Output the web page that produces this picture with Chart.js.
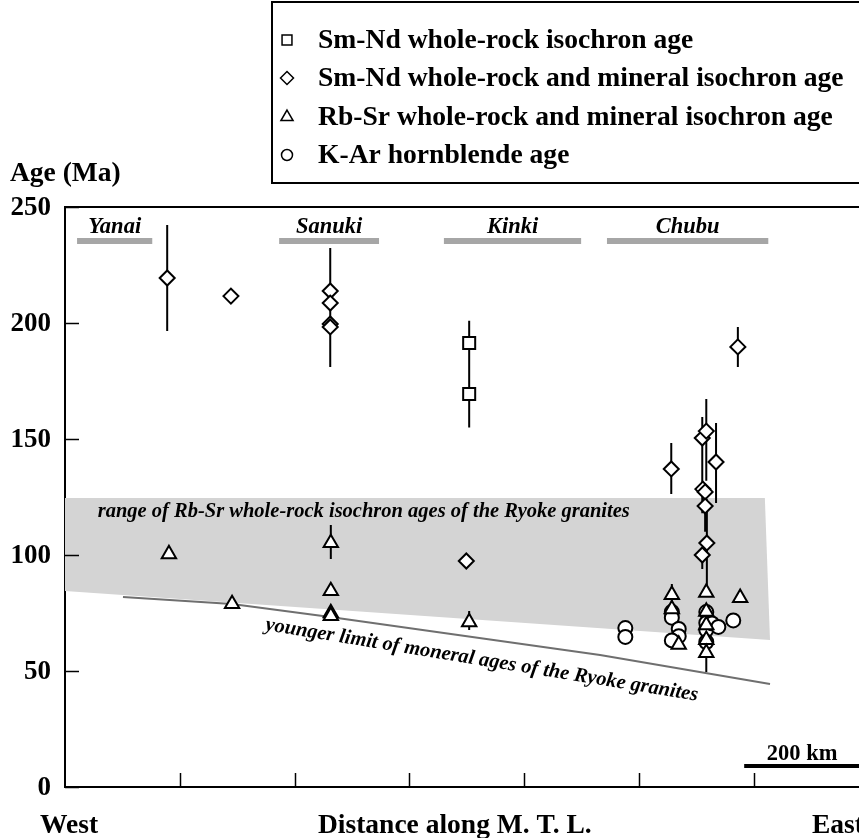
<!DOCTYPE html>
<html>
<head>
<meta charset="utf-8">
<script src="https://cdn.jsdelivr.net/npm/chart.js@4.4.1/dist/chart.umd.min.js"></script>
<style>
html, body { margin: 0; padding: 0; background: #fff; }
#grafico { display: block; }
</style>
</head>
<body>
<canvas id="grafico" width="859" height="838"></canvas>
<script>
const FONTE = '"Liberation Serif", "Times New Roman", serif';

// Eixos (x em km ao longo da M.T.L., y em Ma)
const eixoXMax = 1383;
const eixoYMax = 250;
const ticksY = [0, 50, 100, 150, 200, 250];
const ticksX = [200, 400, 600, 800, 1000, 1200];

// Nomes das series (legenda)
const nomesSeries = [
    "Sm-Nd whole-rock isochron age",
    "Sm-Nd whole-rock and mineral isochron age",
    "Rb-Sr whole-rock and mineral isochron age",
    "K-Ar hornblende age"
];

// Sm-Nd rocha total (quadrados)
const smNdX = [704, 704];
const smNdY = [191.4, 169.4];
const smNdErrMin = [169, 155];
const smNdErrMax = [201, 169];

// Sm-Nd rocha total e mineral (losangos)
const smNdMinX = [178, 289, 462, 462, 462, 462, 699, 1056, 1110, 1117, 1134, 1111, 1115, 1115, 1118, 1110, 1172];
const smNdMinY = [219.4, 211.6, 213.8, 208.6, 199.6, 198.3, 97.4, 137.1, 150.4, 153.4, 140.1, 128.4, 127.2, 121.1, 105.2, 100.0, 189.7];
const smNdMinErrMin = [196.6, null, null, 181, null, null, null, 126.3, 118, 132, 122.4, null, null, 110, 86, 94, 181];
const smNdMinErrMax = [242.2, null, null, 232.3, null, null, null, 148.3, 159.5, 167.2, 156.9, null, null, 128, 124, 100, 198.3];

// Rb-Sr rocha total e mineral (triangulos)
const rbSrX = [181, 291, 463, 463, 463, 463, 704, 1057, 1057, 1069, 1117, 1117, 1117, 1117, 1117, 1176];
const rbSrY = [100.4, 78.9, 105.2, 84.5, 75.0, 73.8, 71.1, 82.8, 76.7, 61.4, 83.8, 75.6, 69.8, 63.4, 57.8, 81.5];
const rbSrErrMin = [null, null, 98.3, null, null, null, 67.7, 78, null, null, null, null, null, null, 49.6, null];
const rbSrErrMax = [null, null, 112.9, null, null, null, 75.9, 87.5, null, null, null, null, null, null, 60, null];

// K-Ar hornblenda (circulos)
const kArX = [976, 976, 1057, 1057, 1069, 1069, 1057, 1117, 1117, 1117, 1117, 1127, 1138, 1164];
const kArY = [68.5, 64.7, 75.5, 73.0, 68.1, 65.0, 63.2, 75.4, 70.7, 67.7, 62.5, 70.5, 69.0, 71.8];

// Faixa das idades Rb-Sr (poligono cinza)
const faixaX = [0, 1219, 1228, 0, 0];
const faixaY = [124.6, 124.6, 63.4, 84.5, 124.6];

// Limite jovem das idades minerais
const limiteX = [101, 291, 462, 932, 1228];
const limiteY = [81.9, 78.9, 73.3, 56.9, 44.4];

// Regioes
const regioes = ["Yanai", "Sanuki", "Kinki", "Chubu"];
const regiaoIni = [21, 373, 660, 944];
const regiaoFim = [152, 547, 899, 1225];
const regiaoY = 235.3;
const regiaoTextoY = 238.8;

// Barra de escala
const escalaX = [1183, 1383];
const escalaY = 9;
const escalaTexto = "200 km";
const escalaTextoPos = [1284, 11.6];

// Anotacoes
const textoFaixa = "range of Rb-Sr whole-rock isochron ages of the Ryoke granites";
const textoFaixaPos = [57, 118.5];
const textoLimite = "younger limit of moneral ages of the Ryoke granites";
const textoLimitePos = [348, 67.7];

const pontos = (xs, ys) => xs.map((x, i) => ({ x: x, y: ys[i] }));

function montarBarras(xs, mins, maxs) {
    const pts = [];
    xs.forEach((x, i) => {
        if (mins[i] == null) return;
        pts.push({ x: x, y: mins[i] }, { x: x, y: maxs[i] }, { x: null, y: null });
    });
    return pts;
}

const barrasErro = [].concat(
    montarBarras(smNdX, smNdErrMin, smNdErrMax),
    montarBarras(smNdMinX, smNdMinErrMin, smNdMinErrMax),
    montarBarras(rbSrX, rbSrErrMin, rbSrErrMax)
);

const estiloMarcador = { borderColor: '#000', backgroundColor: '#fff', borderWidth: 2, showLine: false };

const conjuntos = [
    Object.assign({ label: nomesSeries[0], data: pontos(smNdX, smNdY), pointStyle: 'rect', pointRadius: 8.5, order: 1 }, estiloMarcador),
    Object.assign({ label: nomesSeries[1], data: pontos(smNdMinX, smNdMinY), pointStyle: 'rectRot', pointRadius: 7.5, order: 2 }, estiloMarcador),
    Object.assign({ label: nomesSeries[2], data: pontos(rbSrX, rbSrY), pointStyle: 'triangle', pointRadius: 8.3, order: 3 }, estiloMarcador),
    Object.assign({ label: nomesSeries[3], data: pontos(kArX, kArY), pointStyle: 'circle', pointRadius: 7, order: 4 }, estiloMarcador),
    { label: 'erro', data: barrasErro, showLine: true, borderColor: '#000', borderWidth: 2, pointRadius: 0, spanGaps: false, order: 5 },
    { label: 'escala', data: pontos(escalaX, [escalaY, escalaY]), showLine: true, borderColor: '#000', borderWidth: 4, pointRadius: 0, order: 6 },
    { label: 'limite', data: pontos(limiteX, limiteY), showLine: true, borderColor: '#6f6f6f', borderWidth: 2, pointRadius: 0, order: 7 },
    { label: 'faixa', data: pontos(faixaX, faixaY), showLine: true, borderWidth: 0, borderColor: 'rgba(0,0,0,0)', backgroundColor: '#d4d4d4', fill: 'shape', pointRadius: 0, order: 9 }
];

regioes.forEach((r, i) => {
    conjuntos.push({ label: r, data: pontos([regiaoIni[i], regiaoFim[i]], [regiaoY, regiaoY]), showLine: true, borderColor: '#a6a6a6', borderWidth: 6, pointRadius: 0, order: 8 });
});

function desenharMarcador(ctx, estilo, raio, x, y) {
    ctx.save();
    ctx.fillStyle = '#fff';
    ctx.strokeStyle = '#000';
    ctx.lineWidth = 1.5;
    Chart.helpers.drawPoint(ctx, { pointStyle: estilo, radius: raio, borderWidth: 1.5, rotation: 0 }, x, y);
    ctx.restore();
}

function texto(ctx, s, x, y, align, angulo) {
    ctx.save();
    ctx.translate(x, y);
    if (angulo) ctx.rotate(angulo * Math.PI / 180);
    ctx.textAlign = align || 'left';
    ctx.fillText(s, 0, 0);
    ctx.restore();
}

// Textos, ticks internos, moldura e legenda
const pluginTextos = {
    id: 'textos',
    afterDraw(chart) {
        const ctx = chart.ctx;
        const sx = chart.scales.x, sy = chart.scales.y;
        const area = chart.chartArea;
        ctx.save();
        ctx.strokeStyle = '#000';
        ctx.fillStyle = '#000';

        // moldura superior
        ctx.lineWidth = 2;
        ctx.beginPath();
        ctx.moveTo(area.left, area.top);
        ctx.lineTo(area.right, area.top);
        ctx.stroke();

        // ticks internos
        ctx.lineWidth = 1.5;
        ticksY.forEach(v => {
            const py = Math.round(sy.getPixelForValue(v)) + 0.5;
            ctx.beginPath(); ctx.moveTo(area.left, py); ctx.lineTo(area.left + 14, py); ctx.stroke();
        });
        ticksX.forEach(v => {
            const px = Math.round(sx.getPixelForValue(v)) + 0.5;
            ctx.beginPath(); ctx.moveTo(px, area.bottom); ctx.lineTo(px, area.bottom - 14); ctx.stroke();
        });

        // rotulos do eixo y
        ctx.font = 'bold 27px ' + FONTE;
        ctx.textBaseline = 'middle';
        ticksY.forEach(v => texto(ctx, String(v), area.left - 14, sy.getPixelForValue(v) + 1, 'right'));

        // rotulos das regioes
        ctx.font = 'italic bold 22.5px ' + FONTE;
        ctx.textBaseline = 'alphabetic';
        regioes.forEach((r, i) => {
            const cx = sx.getPixelForValue((regiaoIni[i] + regiaoFim[i]) / 2);
            texto(ctx, r, cx, sy.getPixelForValue(regiaoTextoY), 'center');
        });

        // anotacoes
        ctx.font = 'italic bold 20.5px ' + FONTE;
        ctx.textBaseline = 'middle';
        texto(ctx, textoFaixa, sx.getPixelForValue(textoFaixaPos[0]), sy.getPixelForValue(textoFaixaPos[1]), 'left');
        ctx.textBaseline = 'alphabetic';
        texto(ctx, textoLimite, sx.getPixelForValue(textoLimitePos[0]), sy.getPixelForValue(textoLimitePos[1]), 'left', 9.3);

        // escala
        ctx.font = 'bold 22.5px ' + FONTE;
        texto(ctx, escalaTexto, sx.getPixelForValue(escalaTextoPos[0]), sy.getPixelForValue(escalaTextoPos[1]), 'center');

        // titulos dos eixos
        ctx.font = 'bold 27.5px ' + FONTE;
        ctx.textBaseline = 'middle';
        texto(ctx, 'Age (Ma)', 10, 174, 'left');
        texto(ctx, 'West', 40, 826, 'left');
        texto(ctx, 'Distance along M. T. L.', 318, 826, 'left');
        texto(ctx, 'East', 812, 826, 'left');

        // legenda
        ctx.lineWidth = 2;
        ctx.strokeRect(272, 2, 620, 181);
        const estilos = [['rect', 7], ['rectRot', 6.5], ['triangle', 7], ['circle', 5.5]];
        const linhas = [40, 78, 117, 155];
        ctx.font = 'bold 27.6px ' + FONTE;
        ctx.textBaseline = 'middle';
        nomesSeries.forEach((nome, i) => {
            desenharMarcador(ctx, estilos[i][0], estilos[i][1], 287, linhas[i]);
            ctx.fillStyle = '#000';
            texto(ctx, nome, 318, linhas[i] + 1, 'left');
        });
        ctx.restore();
    }
};

new Chart(document.getElementById('grafico'), {
    type: 'scatter',
    data: { datasets: conjuntos },
    options: {
        responsive: false,
        animation: false,
        events: [],
        layout: { autoPadding: false, padding: { top: 207, left: 0, right: 0, bottom: 0 } },
        plugins: { legend: { display: false }, tooltip: { enabled: false } },
        scales: {
            x: {
                type: 'linear', min: 0, max: eixoXMax,
                grid: { display: false, drawTicks: false },
                border: { display: true, color: '#000', width: 2 },
                ticks: { display: false },
                afterFit: (s) => { s.height = 51; }
            },
            y: {
                type: 'linear', min: 0, max: eixoYMax,
                grid: { display: false, drawTicks: false },
                border: { display: true, color: '#000', width: 2 },
                ticks: { display: false, stepSize: 50 },
                afterFit: (s) => { s.width = 65; }
            }
        }
    },
    plugins: [pluginTextos]
});
</script>
</body>
</html>
